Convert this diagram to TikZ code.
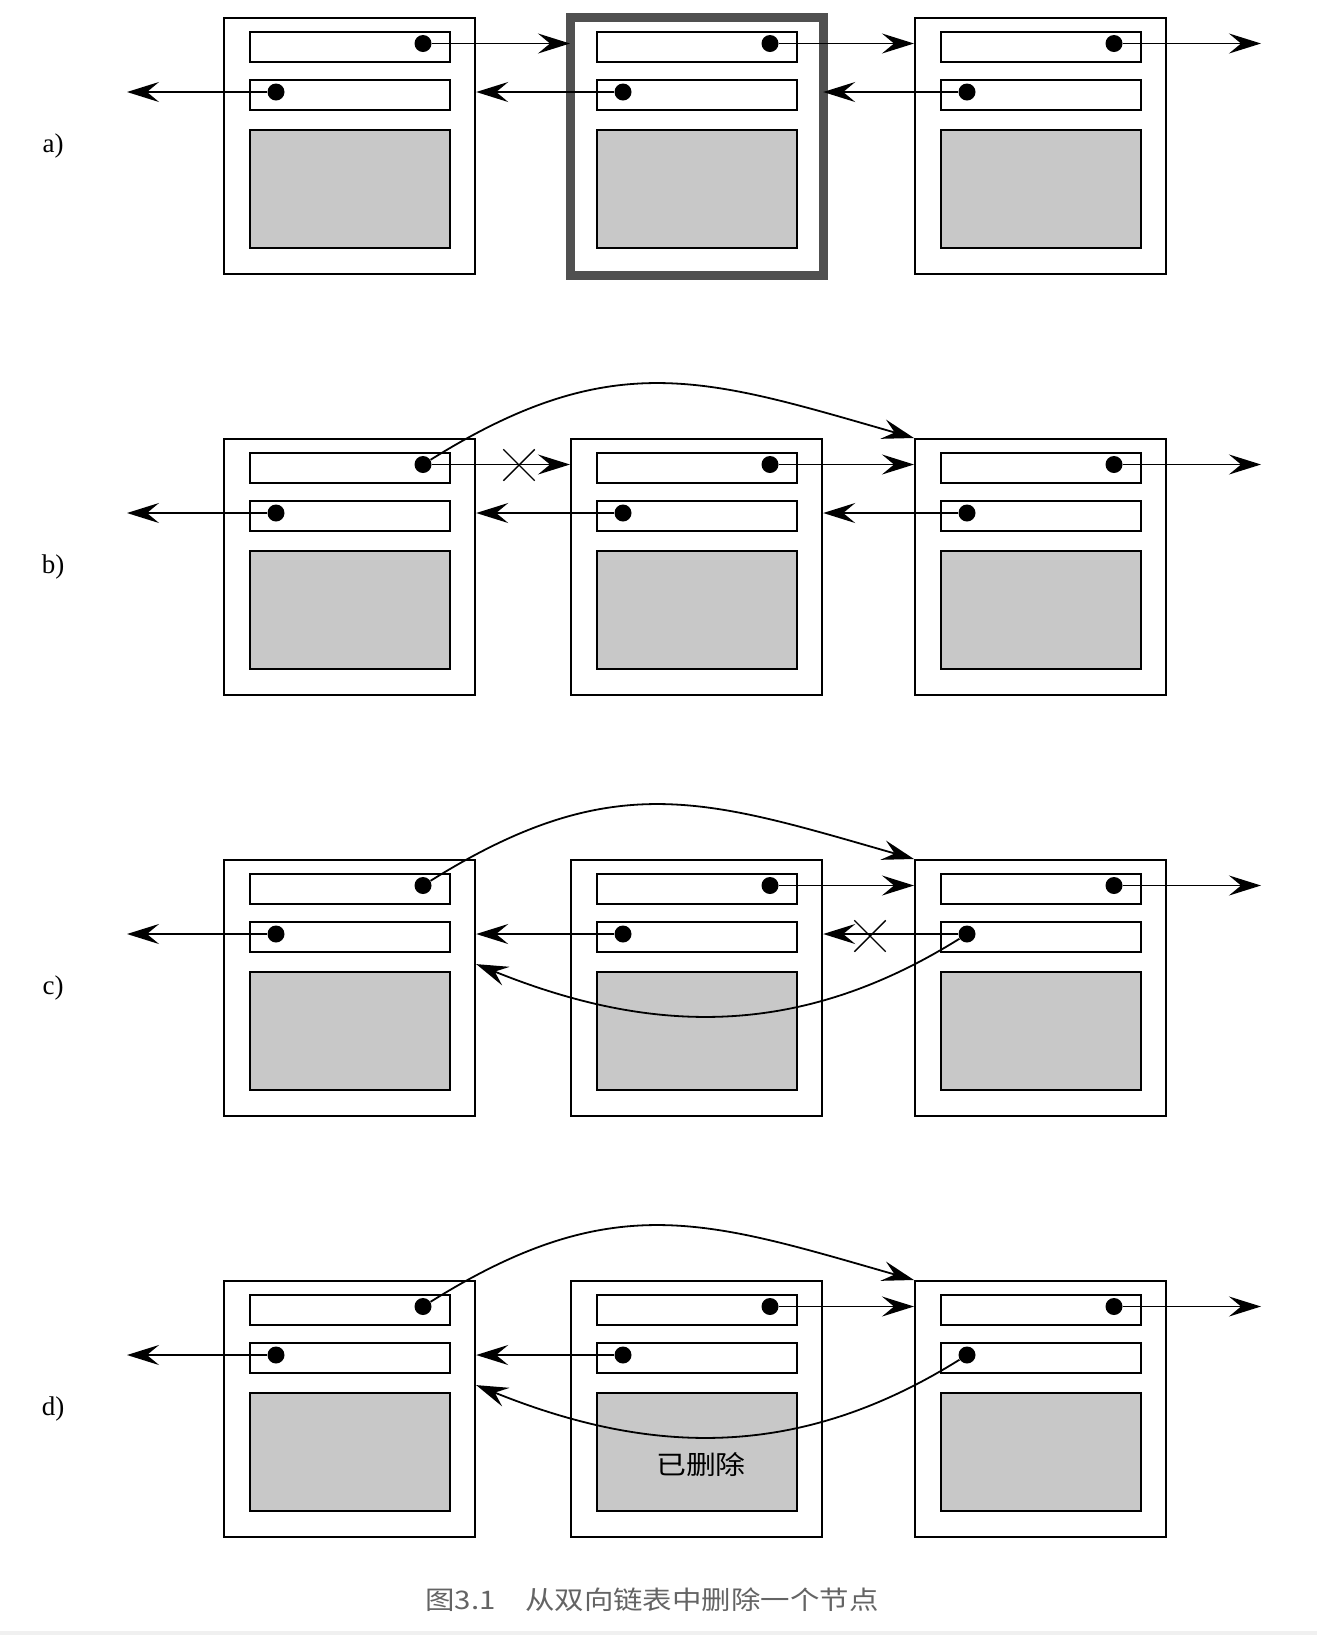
\documentclass[tikz,border=0pt]{standalone}
\usepackage{fontspec}
\setmainfont{Liberation Serif}
\newfontfamily\cjk[FakeStretch=1.15]{Noto Sans CJK SC}
\usetikzlibrary{arrows.meta, shapes.misc}
\definecolor{cellgray}{RGB}{200,200,200}
\definecolor{framegray}{RGB}{80,80,80}
\definecolor{captiongray}{RGB}{100,100,100}

\begin{document}
\begin{tikzpicture}[x=0.5pt, y=-0.5pt,
    cell/.style={draw, line width=1.1pt, anchor=north west, inner sep=0pt, minimum width=125.5pt, minimum height=128pt},
    field/.style={draw, line width=1.1pt, anchor=north west, inner sep=0pt, minimum width=100pt, minimum height=14.75pt},
    payload/.style={field, fill=cellgray, minimum height=59pt},
    ptr/.style={circle, fill=black, inner sep=0pt, minimum size=8.5pt},
    link/.style={line width=0.9pt, -{Stealth[length=16pt, width=10pt, inset=6pt]}},
    cut/.style={draw, cross out, line width=0.7pt, inner sep=0pt, minimum size=15pt},
    tag/.style={font=\fontsize{13.5}{16}\selectfont}]

    \useasboundingbox (0,0) rectangle (1317,1635);
    \fill[black!6] (0,1631) rectangle (1317,1635);

    % Draw the three list nodes of each row
    \foreach \r/\y in {a/17, b/438, c/859, d/1280} {
      \foreach \c/\x in {1/223, 2/570, 3/914} {
        \node[cell] (box\r\c) at (\x,\y) {};
        \node[field] (next\r\c) at (\x+26,\y+14) {};
        \node[field] (prev\r\c) at (\x+26,\y+62) {};
        \node[payload] (data\r\c) at (\x+26,\y+112) {};
        \node[ptr] (nx\r\c) at (\x+200,\y+26.5) {};
        \node[ptr] (pv\r\c) at (\x+53,\y+75) {};
      }
      \coordinate (head\r) at (127,\y+75);
      \coordinate (tail\r) at (1261,\y+26.5);
    }

    % Mark the node to be removed
    \draw[framegray, line width=4.5pt] (boxa2.north west) rectangle (boxa2.south east);

    % Draw the links found in every row
    \foreach \r in {a,b,c,d} {
      \draw[link] (nx\r2) -- (box\r3.west |- nx\r2);
      \draw[link] (nx\r3) -- (tail\r);
      \draw[link] (pv\r2) -- (box\r1.east |- pv\r2);
      \draw[link] (pv\r1) -- (head\r);
    }

    % Draw the links into the middle node
    \foreach \r in {a,b}
      \draw[link] (nx\r1) -- (box\r2.west |- nx\r1);
    \foreach \r in {a,b,c}
      \draw[link] (pv\r3) -- (box\r2.east |- pv\r3);

    % Draw the links that bypass the middle node
    \foreach \r in {b,c,d}
      \draw[link] (nx\r1) to[out=32, in=164, looseness=1.14] (box\r3.north west);
    \foreach \r in {c,d}
      \draw[link] (pv\r3) to[out=212, in=-22] ([yshift=12pt]box\r1.east);

    % Cut links
    \node[cut] (cutb) at (519,465) {};
    \node[cut] (cutc) at (870,936) {};

    % Row labels
    \node[tag] (taga) at (53,146) {a)};
    \node[tag] (tagb) at (53,567) {b)};
    \node[tag] (tagc) at (53,988) {c)};
    \node[tag] (tagd) at (53,1409) {d)};

    \node[font=\cjk\fontsize{13}{15}\selectfont, text=black] (gone) at (701,1465) {已删除};

    \node[font=\cjk\fontsize{12.8}{15}\selectfont, text=captiongray] (caption) at (652,1600) {图3.1　从双向链表中删除一个节点};
\end{tikzpicture}
\end{document}
